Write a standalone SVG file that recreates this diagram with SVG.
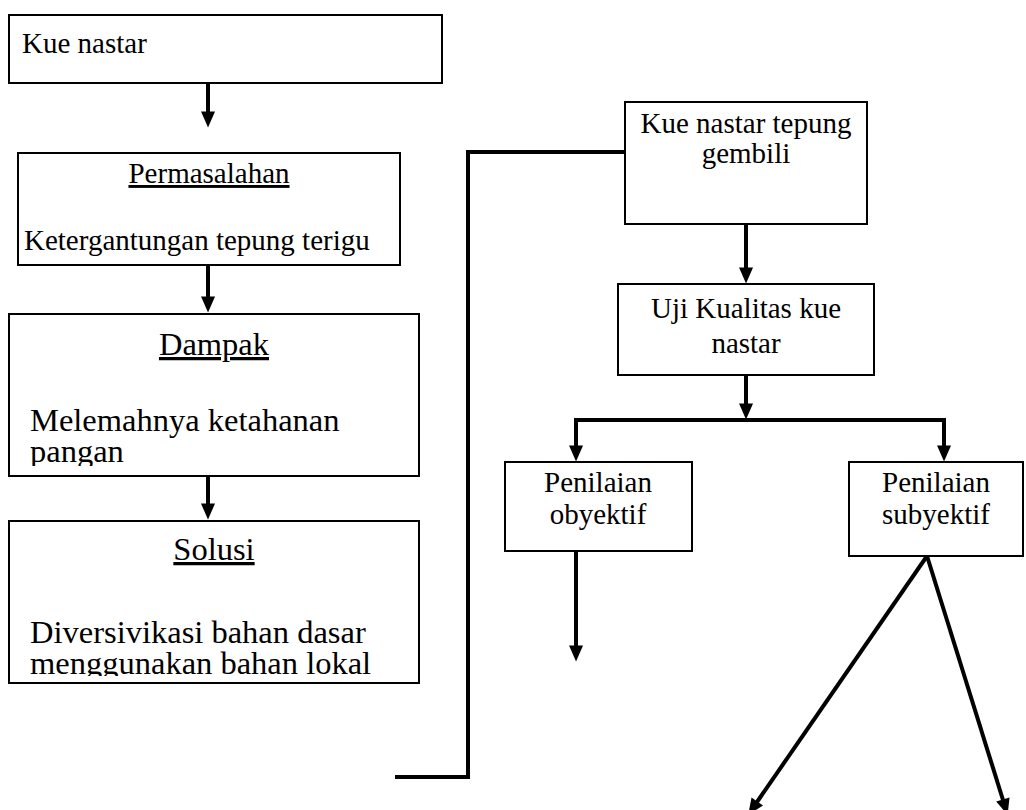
<svg xmlns="http://www.w3.org/2000/svg" width="1026" height="810" viewBox="0 0 1026 810">
<style>
.box{fill:#fff;stroke:#000;stroke-width:2}
.t{font-family:'Liberation Serif',serif;font-size:29px;fill:#000}
.L{font-size:32.5px}
.c{text-anchor:middle}
.u{text-decoration:underline}
.ln{fill:none;stroke:#000;stroke-width:4}
.ar{fill:none;stroke:#000;stroke-width:4;marker-end:url(#ah)}
</style>
<defs>
<marker id="ah" markerUnits="userSpaceOnUse" markerWidth="17" markerHeight="14" refX="0.5" refY="7" orient="auto" overflow="visible">
<path d="M0,0 L16,7 L0,14 Z" fill="#000"/>
</marker>
<clipPath id="clipD"><rect x="9" y="314" width="410" height="152"/></clipPath>
<clipPath id="clipS"><rect x="9" y="521" width="410" height="155"/></clipPath>
</defs>
<rect width="1026" height="810" fill="#fff"/>

<g id="connectors">
<path class="ar" d="M208,83 V112"/>
<path class="ar" d="M208,265 V297"/>
<path class="ar" d="M208,476 V504"/>
<path class="ln" d="M625,152 H468 V777 H395"/>
<path class="ar" d="M746,224 V268"/>
<path class="ar" d="M746,375 V404"/>
<path class="ln" d="M576,420 H944" stroke-linecap="square"/>
<path class="ar" d="M576,420 V446"/>
<path class="ar" d="M944,420 V446"/>
<path class="ar" d="M576,551 V646"/>
<path class="ar" d="M927,556 L757,802"/>
<path class="ar" d="M927,556 L1003,800"/>
</g>

<g id="n-kue-nastar">
<rect class="box" x="9" y="15" width="433" height="68"/>
<text class="t" x="22" y="53">Kue nastar</text>
</g>

<g id="n-permasalahan">
<rect class="box" x="18" y="153" width="382" height="112"/>
<text class="t c u" x="209" y="183">Permasalahan</text>
<text class="t" x="24" y="250">Ketergantungan tepung terigu</text>
</g>

<g id="n-dampak">
<rect class="box" x="9" y="314" width="410" height="162"/>
<text class="t L c u" x="214" y="355">Dampak</text>
<g clip-path="url(#clipD)">
<text class="t L" x="30" y="431">Melemahnya ketahanan</text>
<text class="t L" x="30" y="462">pangan</text>
</g>
</g>

<g id="n-solusi">
<rect class="box" x="9" y="521" width="410" height="162"/>
<text class="t L c u" x="214" y="560">Solusi</text>
<g clip-path="url(#clipS)">
<text class="t L" x="30" y="643">Diversivikasi bahan dasar</text>
<text class="t L" x="30" y="674">menggunakan bahan lokal</text>
</g>
</g>

<g id="n-kue-nastar-gembili">
<rect class="box" x="625" y="102" width="242" height="122"/>
<text class="t c" x="746" y="133">Kue nastar tepung</text>
<text class="t c" x="746" y="163">gembili</text>
</g>

<g id="n-uji-kualitas">
<rect class="box" x="618" y="284" width="256" height="91"/>
<text class="t c" x="746" y="318">Uji Kualitas kue</text>
<text class="t c" x="746" y="353">nastar</text>
</g>

<g id="n-obyektif">
<rect class="box" x="505" y="462" width="187" height="89"/>
<text class="t c" x="598" y="492">Penilaian</text>
<text class="t c" x="598" y="524">obyektif</text>
</g>

<g id="n-subyektif">
<rect class="box" x="849" y="462" width="174" height="94"/>
<text class="t c" x="936" y="492">Penilaian</text>
<text class="t c" x="936" y="524">subyektif</text>
</g>
</svg>
